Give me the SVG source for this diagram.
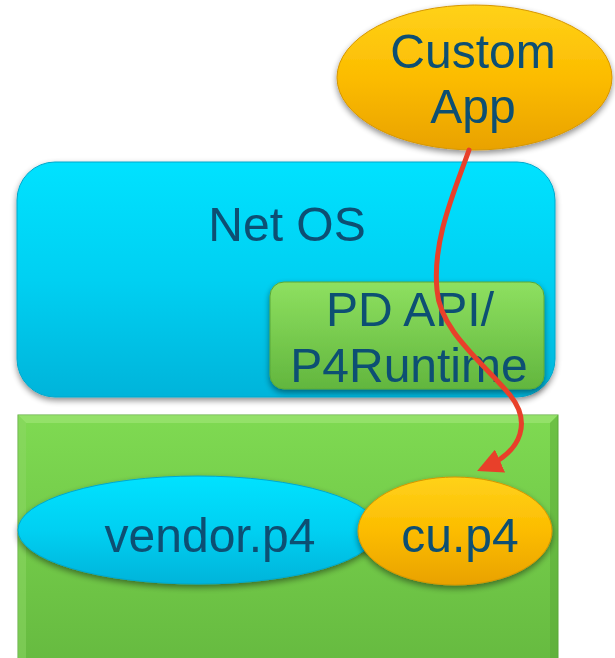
<svg xmlns="http://www.w3.org/2000/svg" width="615" height="658" viewBox="0 0 615 658">
<defs>
<linearGradient id="gCyan" x1="0" y1="0" x2="0" y2="1">
<stop offset="0" stop-color="#00e2ff"/><stop offset="0.5" stop-color="#00d0f2"/><stop offset="1" stop-color="#00b4da"/>
</linearGradient>
<linearGradient id="gGold" x1="0" y1="0" x2="0" y2="1">
<stop offset="0" stop-color="#ffd21a"/><stop offset="0.5" stop-color="#fcbc00"/><stop offset="1" stop-color="#e9a200"/>
</linearGradient>
<linearGradient id="gGreen" x1="0" y1="0" x2="0" y2="1">
<stop offset="0" stop-color="#7fda52"/><stop offset="1" stop-color="#66ba40"/>
</linearGradient>
<linearGradient id="gGreen2" x1="0" y1="0" x2="0" y2="1">
<stop offset="0" stop-color="#8ee060"/><stop offset="1" stop-color="#62b63e"/>
</linearGradient>
<filter id="sh" x="-10%" y="-10%" width="120%" height="125%">
<feGaussianBlur in="SourceAlpha" stdDeviation="3"/>
<feOffset dx="0" dy="3" result="b"/>
<feComponentTransfer><feFuncA type="linear" slope="0.45"/></feComponentTransfer>
<feMerge><feMergeNode/><feMergeNode in="SourceGraphic"/></feMerge>
</filter>
<marker id="ah" viewBox="0 0 10 10" refX="7" refY="5" markerWidth="5" markerHeight="5" orient="auto" markerUnits="strokeWidth">
<path d="M0,0 L10,5 L0,10 Z" fill="#e8402a"/>
</marker>
<style>
.t{font-family:"Liberation Sans",Arial,sans-serif;font-size:48px;fill:#0b4f73;text-anchor:middle}
</style>
</defs>
<g id="netos" filter="url(#sh)">
<rect x="17" y="162" width="538" height="235" rx="38" ry="38" fill="url(#gCyan)" stroke="#00a8cc" stroke-width="1"/>
<text class="t" x="287" y="241">Net OS</text>
</g>
<g id="pdapi" filter="url(#sh)">
<rect x="270" y="282" width="274" height="107" rx="14" ry="14" fill="url(#gGreen2)" stroke="#5aa838" stroke-width="1"/>
<text class="t" x="410" y="326">PD API/</text>
<text class="t" x="409" y="382">P4Runtime</text>
</g>
<g id="device">
<rect x="18" y="415" width="540" height="250" fill="url(#gGreen)" stroke="#5aa838" stroke-width="1"/>
<polygon points="18,415 558,415 550,423 26,423" fill="#a2e67a" opacity="0.6"/>
<polygon points="18,415 26,423 26,658 18,658" fill="#8ed866" opacity="0.5"/>
<polygon points="558,415 550,423 550,658 558,658" fill="#5aa838" opacity="0.5"/>
</g>
<g id="vendor" filter="url(#sh)">
<ellipse cx="198" cy="530" rx="180" ry="54" fill="url(#gCyan)" stroke="#00a8cc" stroke-width="1"/>
<text class="t" x="210" y="552">vendor.p4</text>
</g>
<g id="cup4" filter="url(#sh)">
<ellipse cx="455" cy="531" rx="97" ry="54" fill="url(#gGold)" stroke="#d69600" stroke-width="1"/>
<text class="t" x="460" y="552">cu.p4</text>
</g>
<g id="customapp" filter="url(#sh)">
<ellipse cx="474.5" cy="77.5" rx="137.5" ry="72.5" fill="url(#gGold)" stroke="#d69600" stroke-width="1"/>
<text class="t" x="473" y="68">Custom</text>
<text class="t" x="473" y="123">App</text>
</g>
<g id="connectors">
<path d="M469,150 C455,190 432,240 437,290 C440,330 480,360 510,395 C530,420 525,450 484,468" fill="none" stroke="#e8402a" stroke-width="5" stroke-linecap="round" marker-end="url(#ah)"/>
</g>
</svg>
